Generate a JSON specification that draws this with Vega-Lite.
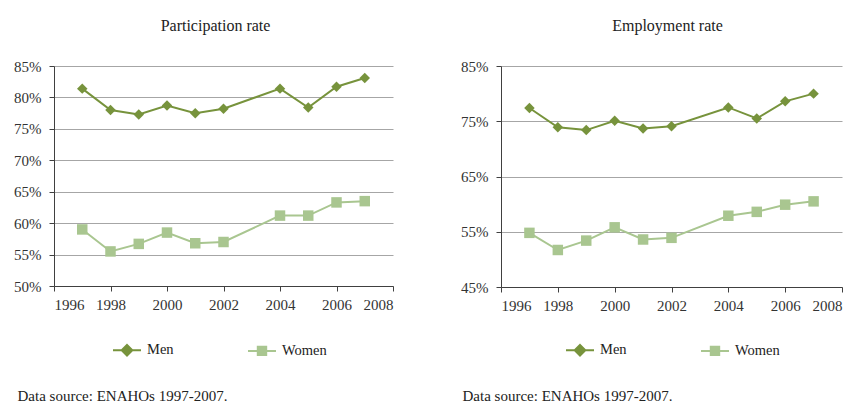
{
  "$schema": "https://vega.github.io/schema/vega-lite/v6.json",
  "padding": {"left": 13, "top": 18, "right": 5, "bottom": 5},
  "background": "white",
  "spacing": 108,
  "bounds": "flush",
  "config": {
    "font": "'Liberation Serif', 'Times New Roman', 'DejaVu Serif', serif",
    "view": {"stroke": null},
    "axis": {
      "labelFont": "'Liberation Serif', 'Times New Roman', 'DejaVu Serif', serif",
      "labelFontSize": 15,
      "labelColor": "#333333",
      "domainColor": "#404040",
      "tickColor": "#404040",
      "tickSize": 5,
      "gridColor": "#a6a6a6",
      "titleFont": "'Liberation Serif', 'Times New Roman', 'DejaVu Serif', serif",
      "titleFontSize": 15,
      "titleFontWeight": "normal",
      "titleColor": "#222222"
    },
    "legend": {
      "labelFont": "'Liberation Serif', 'Times New Roman', 'DejaVu Serif', serif",
      "labelFontSize": 14.5,
      "labelColor": "#222222"
    },
    "title": {"font": "'Liberation Serif', 'Times New Roman', 'DejaVu Serif', serif", "fontSize": 16, "fontWeight": "normal", "color": "#222222"}
  },
  "datasets": {
    "rates": [
      {"panel": "P", "year": 1997, "sex": "Men", "value": 81.4},
      {"panel": "P", "year": 1998, "sex": "Men", "value": 78.0},
      {"panel": "P", "year": 1999, "sex": "Men", "value": 77.3},
      {"panel": "P", "year": 2000, "sex": "Men", "value": 78.7},
      {"panel": "P", "year": 2001, "sex": "Men", "value": 77.5},
      {"panel": "P", "year": 2002, "sex": "Men", "value": 78.2},
      {"panel": "P", "year": 2004, "sex": "Men", "value": 81.4},
      {"panel": "P", "year": 2005, "sex": "Men", "value": 78.4},
      {"panel": "P", "year": 2006, "sex": "Men", "value": 81.7},
      {"panel": "P", "year": 2007, "sex": "Men", "value": 83.1},
      {"panel": "P", "year": 1997, "sex": "Women", "value": 59.0},
      {"panel": "P", "year": 1998, "sex": "Women", "value": 55.5},
      {"panel": "P", "year": 1999, "sex": "Women", "value": 56.7},
      {"panel": "P", "year": 2000, "sex": "Women", "value": 58.5},
      {"panel": "P", "year": 2001, "sex": "Women", "value": 56.8},
      {"panel": "P", "year": 2002, "sex": "Women", "value": 57.0},
      {"panel": "P", "year": 2004, "sex": "Women", "value": 61.2},
      {"panel": "P", "year": 2005, "sex": "Women", "value": 61.2},
      {"panel": "P", "year": 2006, "sex": "Women", "value": 63.3},
      {"panel": "P", "year": 2007, "sex": "Women", "value": 63.5},
      {"panel": "E", "year": 1997, "sex": "Men", "value": 77.4},
      {"panel": "E", "year": 1998, "sex": "Men", "value": 73.9},
      {"panel": "E", "year": 1999, "sex": "Men", "value": 73.4},
      {"panel": "E", "year": 2000, "sex": "Men", "value": 75.1},
      {"panel": "E", "year": 2001, "sex": "Men", "value": 73.7},
      {"panel": "E", "year": 2002, "sex": "Men", "value": 74.1},
      {"panel": "E", "year": 2004, "sex": "Men", "value": 77.5},
      {"panel": "E", "year": 2005, "sex": "Men", "value": 75.5},
      {"panel": "E", "year": 2006, "sex": "Men", "value": 78.6},
      {"panel": "E", "year": 2007, "sex": "Men", "value": 80.0},
      {"panel": "E", "year": 1997, "sex": "Women", "value": 54.8},
      {"panel": "E", "year": 1998, "sex": "Women", "value": 51.7},
      {"panel": "E", "year": 1999, "sex": "Women", "value": 53.4},
      {"panel": "E", "year": 2000, "sex": "Women", "value": 55.8},
      {"panel": "E", "year": 2001, "sex": "Women", "value": 53.6},
      {"panel": "E", "year": 2002, "sex": "Women", "value": 53.9},
      {"panel": "E", "year": 2004, "sex": "Women", "value": 57.9},
      {"panel": "E", "year": 2005, "sex": "Women", "value": 58.6},
      {"panel": "E", "year": 2006, "sex": "Women", "value": 59.9},
      {"panel": "E", "year": 2007, "sex": "Women", "value": 60.5}
    ]
  },
  "resolve": {"legend": {"color": "independent"}, "scale": {"y": "independent"}},
  "hconcat": [
    {
      "width": 339,
      "height": 220,
      "title": {"text": "Participation rate", "anchor": "middle", "offset": 25, "dx": -8},
      "data": {"name": "rates"},
      "transform": [{"filter": "datum.panel === 'P'"}],
      "encoding": {
        "x": {
          "field": "year", "type": "quantitative",
          "scale": {"domain": [1996, 2008], "nice": false, "zero": false},
          "axis": {
            "values": [1996, 1998, 2000, 2002, 2004, 2006, 2008], "format": "d", "grid": false,
            "labelPadding": 6,
            "title": "Data source: ENAHOs 1997-2007.", "titleX": -37, "titleY": 114,
            "titleAlign": "left", "titleAnchor": null, "titleBaseline": "alphabetic"
          }
        },
        "y": {
          "field": "value", "type": "quantitative",
          "scale": {"domain": [50, 85], "nice": false, "zero": false},
          "axis": {"values": [50, 55, 60, 65, 70, 75, 80, 85], "labelExpr": "datum.value + '%'", "title": null, "labelPadding": 8}
        },
        "color": {
          "field": "sex", "type": "nominal",
          "scale": {"domain": ["Men", "Women"], "range": ["#77933c", "#a9c690"]},
          "legend": {
            "title": null, "orient": "none", "direction": "horizontal",
            "legendX": 58, "legendY": 269, "symbolSize": 784, "symbolStrokeWidth": 2,
            "labelOffset": 5, "columnPadding": 70,
            "encode": {
              "symbols": {
                "update": {
                  "shape": {"signal": "datum.value === 'Men' ? 'M-1,0H1M0,-0.38L0.38,0L0,0.38L-0.38,0Z' : 'M-1,0H1M-0.3,-0.3H0.3V0.3H-0.3Z'"},
                  "fill": {"signal": "datum.value === 'Men' ? '#77933c' : '#a9c690'"},
                  "stroke": {"signal": "datum.value === 'Men' ? '#77933c' : '#a9c690'"},
                  "strokeWidth": {"value": 2},
                  "opacity": {"value": 1}
                }
              }
            }
          }
        }
      },
      "layer": [
        {"mark": {"type": "line", "strokeWidth": 2}},
        {
          "mark": {"type": "point", "filled": true, "opacity": 1, "size": 110},
          "encoding": {
            "shape": {"field": "sex", "type": "nominal", "scale": {"domain": ["Men", "Women"], "range": ["diamond", "square"]}, "legend": null}
          }
        }
      ]
    },
    {
      "width": 341,
      "height": 221,
      "title": {"text": "Employment rate", "anchor": "middle", "offset": 25, "dx": -4},
      "data": {"name": "rates"},
      "transform": [{"filter": "datum.panel === 'E'"}],
      "encoding": {
        "x": {
          "field": "year", "type": "quantitative",
          "scale": {"domain": [1996, 2008], "nice": false, "zero": false},
          "axis": {
            "values": [1996, 1998, 2000, 2002, 2004, 2006, 2008], "format": "d", "grid": false,
            "labelPadding": 6,
            "title": "Data source: ENAHOs 1997-2007.", "titleX": -39, "titleY": 113,
            "titleAlign": "left", "titleAnchor": null, "titleBaseline": "alphabetic"
          }
        },
        "y": {
          "field": "value", "type": "quantitative",
          "scale": {"domain": [45, 85], "nice": false, "zero": false},
          "axis": {"values": [45, 55, 65, 75, 85], "labelExpr": "datum.value + '%'", "title": null, "labelPadding": 8}
        },
        "color": {
          "field": "sex", "type": "nominal",
          "scale": {"domain": ["Men", "Women"], "range": ["#77933c", "#a9c690"]},
          "legend": {
            "title": null, "orient": "none", "direction": "horizontal",
            "legendX": 64, "legendY": 269, "symbolSize": 784, "symbolStrokeWidth": 2,
            "labelOffset": 5, "columnPadding": 70,
            "encode": {
              "symbols": {
                "update": {
                  "shape": {"signal": "datum.value === 'Men' ? 'M-1,0H1M0,-0.38L0.38,0L0,0.38L-0.38,0Z' : 'M-1,0H1M-0.3,-0.3H0.3V0.3H-0.3Z'"},
                  "fill": {"signal": "datum.value === 'Men' ? '#77933c' : '#a9c690'"},
                  "stroke": {"signal": "datum.value === 'Men' ? '#77933c' : '#a9c690'"},
                  "strokeWidth": {"value": 2},
                  "opacity": {"value": 1}
                }
              }
            }
          }
        }
      },
      "layer": [
        {"mark": {"type": "line", "strokeWidth": 2}},
        {
          "mark": {"type": "point", "filled": true, "opacity": 1, "size": 110},
          "encoding": {
            "shape": {"field": "sex", "type": "nominal", "scale": {"domain": ["Men", "Women"], "range": ["diamond", "square"]}, "legend": null}
          }
        }
      ]
    }
  ]
}
